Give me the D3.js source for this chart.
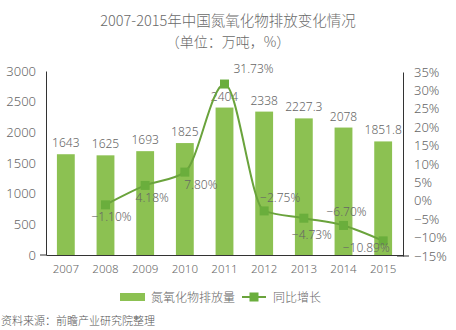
<!DOCTYPE html>
<html><head><meta charset="utf-8">
<script src="https://cdn.jsdelivr.net/npm/d3@7/dist/d3.min.js"></script>
<style>
html,body{margin:0;padding:0;background:#fff;}
text{font-family:"Noto Sans CJK SC","Noto Sans",sans-serif;}
.num{font-family:"Noto Sans","DejaVu Sans",sans-serif;font-weight:300;}
</style></head>
<body>
<svg id="c" width="456" height="330"></svg>
<script>
const years = ["2007","2008","2009","2010","2011","2012","2013","2014","2015"];
const emissions = [1643,1625,1693,1825,2404,2338,2227.3,2078,1851.8];
const emissionLabels = ["1643","1625","1693","1825","2404","2338","2227.3","2078","1851.8"];
const growth = [null,-1.10,4.18,7.80,31.73,-2.75,-4.73,-6.70,-10.89];
const leftTicks = [0,500,1000,1500,2000,2500,3000];
const rightTicks = [-15,-10,-5,0,5,10,15,20,25,30,35];

const svg = d3.select("#c");
const L = 46, R = 403, T = 71, B = 255;
const x = d3.scaleBand().domain(years).range([L,R]).paddingInner(0.55).paddingOuter(0.275);
const yL = d3.scaleLinear().domain([0,3000]).range([B,T]);
const yR = d3.scaleLinear().domain([-15,35]).range([B+1,T+1]);
const barColor = "#8cc152", lineColor = "#6aa33c", markColor = "#6aae3c", txt = "#666";

svg.append("text").attr("x",228).attr("y",26).attr("text-anchor","middle").attr("font-weight",300)
  .attr("font-size",14.5).attr("fill","#6a6a6a").text("2007-2015年中国氮氧化物排放变化情况");
svg.append("text").attr("x",228).attr("y",47).attr("text-anchor","middle").attr("font-weight",300)
  .attr("font-size",14).attr("fill","#6a6a6a").text("（单位：万吨，%）");

// left axis
const gl = svg.append("g").attr("transform",`translate(${L},0)`)
  .call(d3.axisLeft(yL).tickValues(leftTicks).tickSize(0).tickPadding(10).tickFormat(d3.format("d")));
gl.select(".domain").attr("stroke","#333");
gl.selectAll("text").attr("class","num").attr("font-size",13).attr("fill",txt);
svg.append("line").attr("x1",L-6).attr("x2",L).attr("y1",B).attr("y2",B).attr("stroke","#333");

// right axis
const gr = svg.append("g").attr("transform",`translate(${R},0)`)
  .call(d3.axisRight(yR).tickValues(rightTicks).tickSize(0).tickPadding(11).tickFormat(d=>(d<0?"−":"")+Math.abs(d)+"%"));
gr.select(".domain").attr("stroke","#333");
gr.selectAll("text").attr("class","num").attr("font-size",13).attr("fill",txt);
svg.append("line").attr("x1",R-6).attr("x2",R+6).attr("y1",B+1).attr("y2",B+1).attr("stroke","#333");

// bars
svg.selectAll("rect.bar").data(years).join("rect").attr("class","bar")
  .attr("x",d=>x(d)).attr("width",x.bandwidth())
  .attr("y",(d,i)=>yL(emissions[i])).attr("height",(d,i)=>B-yL(emissions[i]))
  .attr("fill",barColor);

// bottom axis
const gx = svg.append("g").attr("transform",`translate(0,${B})`)
  .call(d3.axisBottom(x).tickSize(0).tickPadding(10));
gx.select(".domain").attr("stroke","#333");
gx.selectAll("text").attr("class","num").attr("font-size",11.5).attr("fill",txt);

// bar labels
svg.selectAll("text.bl").data(years).join("text").attr("class","bl num")
  .attr("x",d=>x(d)+x.bandwidth()/2).attr("y",(d,i)=>yL(emissions[i])-7)
  .attr("text-anchor","middle").attr("font-size",12).attr("fill",txt)
  .text((d,i)=>emissionLabels[i]);

// line
const pts = years.map((d,i)=>({d,v:growth[i]})).filter(p=>p.v!==null);
const cx = p=>x(p.d)+x.bandwidth()/2;
svg.append("path").datum(pts)
  .attr("d",d3.line().x(cx).y(p=>yR(p.v)).curve(d3.curveMonotoneX))
  .attr("fill","none").attr("stroke",lineColor).attr("stroke-width",2);
svg.selectAll("rect.mk").data(pts).join("rect").attr("class","mk")
  .attr("x",p=>cx(p)-4.5).attr("y",p=>yR(p.v)-4.5).attr("width",9).attr("height",9)
  .attr("fill",markColor);

// growth labels (placement offsets relative to point)
const off = {"2008":[6,16],"2009":[7,17],"2010":[16,17],"2011":[29,-11],"2012":[16,-9],"2013":[8,21],"2014":[3,-9],"2015":[-17,11]};
svg.selectAll("text.gl").data(pts).join("text").attr("class","gl num")
  .attr("x",p=>cx(p)+off[p.d][0]).attr("y",p=>yR(p.v)+off[p.d][1])
  .attr("text-anchor","middle").attr("font-size",12).attr("fill",txt)
  .text(p=>(p.v<0?"−":"")+Math.abs(p.v).toFixed(2)+"%");

// legend
svg.append("rect").attr("x",120).attr("y",293).attr("width",25).attr("height",8).attr("fill",barColor);
svg.append("text").attr("x",151).attr("y",301.5).attr("font-size",12).attr("font-weight",300).attr("fill",txt).text("氮氧化物排放量");
svg.append("line").attr("x1",242).attr("x2",266).attr("y1",297).attr("y2",297).attr("stroke",lineColor).attr("stroke-width",2);
svg.append("rect").attr("x",249.5).attr("y",292.5).attr("width",9).attr("height",9).attr("fill",markColor);
svg.append("text").attr("x",273).attr("y",301.5).attr("font-size",12).attr("font-weight",300).attr("fill",txt).text("同比增长");

svg.append("text").attr("x",1).attr("y",325).attr("font-size",11).attr("font-weight",300).attr("fill","#555").text("资料来源：前瞻产业研究院整理");
</script>
</body></html>
